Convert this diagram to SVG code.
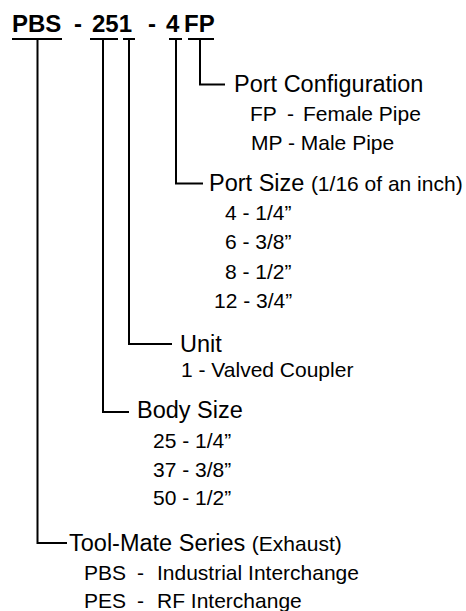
<svg xmlns="http://www.w3.org/2000/svg" width="466" height="611" viewBox="0 0 466 611">
<style>
text{font-family:"Liberation Sans",Arial,sans-serif;fill:#000}
.hd{font-size:24px;font-weight:bold}
.h{font-size:23.5px}
.p{font-size:21px}
.s{font-size:21px}
.ln{fill:none;stroke:#000;stroke-width:2}
</style>
<rect width="466" height="611" fill="#fff"/>
<g id="header">
<text class="hd" y="32"><tspan x="12">PBS</tspan><tspan x="74">-</tspan><tspan x="92">251</tspan><tspan x="148">-</tspan><tspan x="166">4</tspan><tspan x="184">FP</tspan></text>
</g>
<g id="connectors" class="ln">
<path d="M12 39H62M90 39H118M123 39H135M169 39H182M188 39H214"/>
<path d="M200 39V84.5H225"/>
<path d="M176 39V183.5H203"/>
<path d="M129 39V344H172"/>
<path d="M103 39V412H129"/>
<path d="M37.5 39V543H67"/>
</g>
<g id="port-configuration">
<text class="h" x="234" y="92">Port Configuration</text>
<text class="s" y="121"><tspan x="250">FP</tspan><tspan x="287">-</tspan><tspan x="303">Female Pipe</tspan></text>
<text class="s" x="251" y="150">MP - Male Pipe</text>
</g>
<g id="port-size">
<text x="209" y="191"><tspan class="h">Port Size </tspan><tspan class="p">(1/16 of an inch)</tspan></text>
<text class="s" x="225" y="220">4 - 1/4”</text>
<text class="s" x="225" y="249">6 - 3/8”</text>
<text class="s" x="225" y="279">8 - 1/2”</text>
<text class="s" x="214" y="308">12 - 3/4”</text>
</g>
<g id="unit">
<text class="h" x="180" y="351.5">Unit</text>
<text class="s" x="181" y="377">1 - Valved Coupler</text>
</g>
<g id="body-size">
<text class="h" x="137" y="418">Body Size</text>
<text class="s" x="153" y="448">25 - 1/4”</text>
<text class="s" x="153" y="476.5">37 - 3/8”</text>
<text class="s" x="153" y="505">50 - 1/2”</text>
</g>
<g id="tool-mate-series">
<text x="69" y="551"><tspan class="h">Tool-Mate Series </tspan><tspan class="p">(Exhaust)</tspan></text>
<text class="s" y="580"><tspan x="84">PBS</tspan><tspan x="137">-</tspan><tspan x="157">Industrial Interchange</tspan></text>
<text class="s" y="608"><tspan x="84">PES</tspan><tspan x="137">-</tspan><tspan x="157">RF Interchange</tspan></text>
</g>
</svg>
